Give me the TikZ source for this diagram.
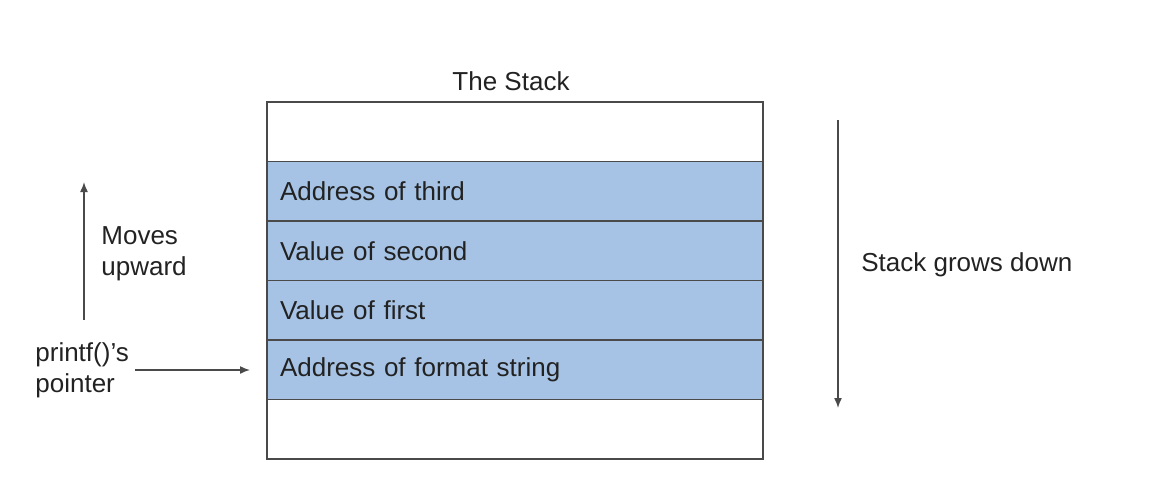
\documentclass[tikz,border=0pt]{standalone}
\usepackage{fontspec}
\setmainfont{Liberation Sans}
\usetikzlibrary{positioning,arrows.meta}
\definecolor{slotblue}{HTML}{A6C3E5}
\definecolor{edgegray}{HTML}{4A4A4A}
\definecolor{inkgray}{HTML}{222222}
\tikzset{
    slot/.style={draw=edgegray, line width=0.75pt, minimum height=29.75pt, text width=235pt, inner xsep=6.5pt, inner ysep=0pt, outer sep=0pt, align=left, text=inkgray},
    used/.style={slot, fill=slotblue},
    arr/.style={draw=edgegray, line width=0.75pt, -{Latex[length=5pt,width=4pt]}},
    lbl/.style={text=inkgray, align=left, inner sep=3pt}
}
\begin{document}
\begin{tikzpicture}[x=0.5pt, y=-0.5pt, font=\fontsize{13pt}{15.5pt}\selectfont]
        \useasboundingbox (0,0) rectangle (1152,494);
        \node (title) at (511,81)[text=inkgray]{The Stack};
        \node (r0) at (515,131.75)[slot]{};
        \node (r1) [used, below=0pt of r0]{Address of third};
        \node (r2) [used, below=0pt of r1]{Value of second};
        \node (r3) [used, below=0pt of r2]{Value of first};
        \node (r4) [used, below=0pt of r3]{Address of format string};
        \node (r5) [slot, below=0pt of r4]{};

        \coordinate (up start) at (84,320);
        \coordinate (up end) at (84,182);
        \path[arr] (up start) -- (up end);
        \node (moves) at (95,254)[lbl, anchor=west]{Moves\\upward};
        \node (ptr) at (29,370)[lbl, anchor=west]{printf()’s\\pointer};
        \draw[arr, shorten >=8.5pt] (ptr.east) -- (ptr.east -| r4.west);

        \coordinate (down start) at (838,120);
        \coordinate (down end) at (838,408);
        \path[arr] (down start) -- (down end);
        \node (grows) at (855,265)[lbl, anchor=west]{Stack grows down};
    \end{tikzpicture}
\end{document}
